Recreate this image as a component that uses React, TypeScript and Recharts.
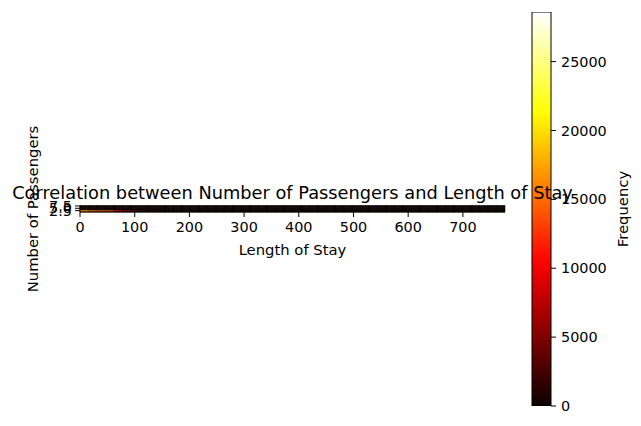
import React from "react";
import {
  ScatterChart, XAxis, YAxis, ReferenceArea,
  BarChart, Bar,
} from "recharts";

// hist2d: Length of Stay (x) vs Number of Passengers (y)
const stayMax = 777;
const binCount = 50;
const passengerRows = [1, 2, 3, 4, 5, 6, 7]; // each row spans [p, p + 1)
// frequencies per row, leading bins (the rest are 0)
const freqRow1 = [7000, 5200, 3600, 2500, 1500, 900, 500, 300, 200, 100];
const freqRow2 = [20500, 17500, 16500, 16000, 11000, 6000, 3000, 1600, 900, 500, 300, 200, 100];
const freqRow3 = [1500, 1100, 800, 600, 400, 200, 100];
const freqRow4 = [600, 400, 300, 200, 100];
const freqRow5 = [200, 150, 100];
const freqRow6 = [100, 50];
const freqRow7 = [50];
const freqRows = [freqRow1, freqRow2, freqRow3, freqRow4, freqRow5, freqRow6, freqRow7];

const xTicks = [0, 100, 200, 300, 400, 500, 600, 700];
const yTicks = [2.5, 5, 7.5];
const freqMax = 28600;
const cbTicks = [0, 5000, 10000, 15000, 20000, 25000];

const FONT = "DejaVu Sans, sans-serif";

function hot(t: number) {
  const c = Math.max(0, Math.min(1, t));
  const r = c < 0.365 ? 0.0416 + (1 - 0.0416) * (c / 0.365) : 1;
  const g = c < 0.365 ? 0 : c < 0.746 ? (c - 0.365) / (0.746 - 0.365) : 1;
  const b = c < 0.746 ? 0 : (c - 0.746) / (1 - 0.746);
  const h = (v: number) => Math.round(v * 255);
  return `rgb(${h(r)},${h(g)},${h(b)})`;
}

const binWidth = stayMax / binCount;
const cells = passengerRows.flatMap((p, ri) =>
  Array.from({ length: binCount }, (_, i) => ({
    x1: i * binWidth,
    x2: (i + 1) * binWidth,
    y1: p,
    y2: p + 1,
    v: freqRows[ri][i] ?? 0,
  }))
);

const cbData = [{ name: "cb", v: freqMax }];

const tick = { fontSize: 14.4, fill: "#000", fontFamily: FONT };

const centered = (x: number, y: number, size: number, rotate = false): React.CSSProperties => ({
  position: "absolute",
  left: x,
  top: y,
  transform: `translate(-50%, -50%)${rotate ? " rotate(-90deg)" : ""}`,
  fontFamily: FONT,
  fontSize: size,
  whiteSpace: "nowrap",
  color: "#000",
});

export default function App() {
  return (
    <div style={{ position: "relative", width: 641, height: 426, background: "#fff" }}>
      <style>{`body{margin:0}`}</style>
      <div style={{ position: "absolute", left: 0, top: 0 }}>
        <ScatterChart width={641} height={426} margin={{ top: 205.5, right: 136, bottom: 184, left: 0 }}>
          <XAxis
            type="number"
            dataKey="x"
            domain={[0, stayMax]}
            ticks={xTicks}
            interval={0}
            height={30}
            tick={tick}
            tickSize={5}
            tickMargin={5}
            stroke="#000"
            allowDataOverflow
          />
          <YAxis
            type="number"
            dataKey="y"
            domain={[1, 8]}
            ticks={yTicks}
            interval={0}
            width={80}
            tick={tick}
            tickSize={5}
            tickMargin={3}
            tickFormatter={(v: number) => v.toFixed(1)}
            stroke="#000"
            allowDataOverflow
          />
          {cells.map((c, i) => (
            <ReferenceArea
              key={i}
              x1={c.x1}
              x2={c.x2}
              y1={c.y1}
              y2={c.y2}
              fill={hot(c.v / freqMax)}
              fillOpacity={1}
              stroke={hot(c.v / freqMax)}
              strokeWidth={0.6}
              ifOverflow="visible"
            />
          ))}
        </ScatterChart>
      </div>
      <div style={{ position: "absolute", left: 0, top: 0 }}>
        <BarChart width={641} height={426} data={cbData} barCategoryGap={0}
          margin={{ top: 12, right: 10, bottom: 20, left: 532 }}>
          <defs>
            <linearGradient id="hotGrad" x1="0" y1="1" x2="0" y2="0">
              <stop offset="0" stopColor="rgb(11,0,0)" />
              <stop offset="0.365" stopColor="rgb(255,0,0)" />
              <stop offset="0.746" stopColor="rgb(255,255,0)" />
              <stop offset="1" stopColor="rgb(255,255,255)" />
            </linearGradient>
          </defs>
          <XAxis dataKey="name" type="category" hide />
          <YAxis
            orientation="right"
            type="number"
            domain={[0, freqMax]}
            ticks={cbTicks}
            interval={0}
            width={80}
            tick={tick}
            tickSize={5}
            tickMargin={5}
            axisLine={false}
            stroke="#000"
            allowDataOverflow
          />
          <Bar dataKey="v" fill="url(#hotGrad)" stroke="#000" strokeWidth={1} isAnimationActive={false} />
        </BarChart>
      </div>
      <div style={centered(292.5, 192, 17.8)}>
        Correlation between Number of Passengers and Length of Stay
      </div>
      <div style={centered(292.5, 249, 14.8)}>Length of Stay</div>
      <div style={centered(32, 209, 14.8, true)}>Number of Passengers</div>
      <div style={centered(622, 209, 14.8, true)}>Frequency</div>
    </div>
  );
}
